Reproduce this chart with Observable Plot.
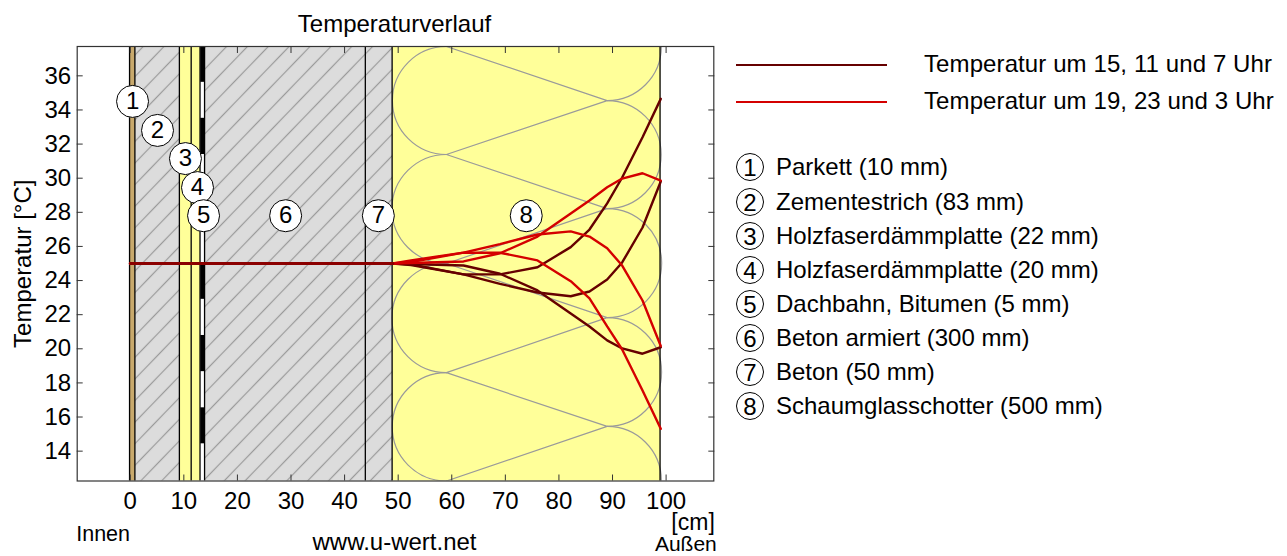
<!DOCTYPE html>
<html>
<head>
<meta charset="utf-8">
<script src="https://cdn.jsdelivr.net/npm/d3@7"></script>
<script src="https://cdn.jsdelivr.net/npm/@observablehq/plot@0.6"></script>
<style>
  html, body { margin: 0; padding: 0; background: #fff; }
  #wrap { position: relative; width: 1287px; height: 556px; font-family: "Liberation Sans", Arial, sans-serif; color: #000; overflow: hidden; }
  #wrap svg { display: block; }
  .tempLine { position: absolute; left: 736px; width: 151px; height: 2px; }
  .tempText { position: absolute; left: 924px; font-size: 24px; line-height: 24px; letter-spacing: 0.1px; white-space: nowrap; }
  .layerRow { position: absolute; left: 736px; height: 28px; white-space: nowrap; }
  .layerRow b { position: absolute; left: 0; top: 0; width: 26px; height: 26px; border: 1px solid #000; border-radius: 50%; font-weight: normal; font-size: 24px; line-height: 27px; text-align: center; }
  .layerRow span { position: absolute; left: 40px; top: 2px; font-size: 24px; line-height: 24px; }
</style>
</head>
<body>
<div id="wrap"></div>
<script>
// Layer boundaries [cm], materials
const layerNames = ["Parkett (10 mm)", "Zementestrich (83 mm)", "Holzfaserdämmplatte (22 mm)", "Holzfaserdämmplatte (20 mm)", "Dachbahn, Bitumen (5 mm)", "Beton armiert (300 mm)", "Beton (50 mm)", "Schaumglasschotter (500 mm)"];
const layerEdges = [0, 1, 9.3, 11.5, 13.15, 14, 44, 49, 99];
const layerFills = ["#c8a96c", "url(#hatch)", "#ffff99", "#ffff99", "#ffffff", "url(#hatch)", "url(#hatch)", "#ffff99"];

// Badge positions on the chart
const badgeX = [0.43, 5.09, 10.3, 12.55, 13.68, 29, 46.3, 73.9];
const badgeY = [34.5, 32.8, 31.15, 29.45, 27.8, 27.8, 27.8, 27.8];

// Axis
const xDomain = [-9.9, 108.9];
const yDomain = [12.25, 37.72];
const xTicks = [0, 10, 20, 30, 40, 50, 60, 70, 80, 90, 100];
const yTicks = [14, 16, 18, 20, 22, 24, 26, 28, 30, 32, 34, 36];

// Bitumen dashes (temperature-axis extents)
const dashTop = [37.72, 33.51, 29.27, 25.03, 20.78, 16.54];
const dashBottom = [35.62, 31.39, 27.15, 22.9, 18.66, 14.43];

// Gravel symbol
const fibreX = [59, 89];
const fibreY = [37.72, 34.55, 31.39, 28.22, 25, 21.83, 18.6, 15.45, 12.25];
const fibreLeftArcs = [[37.72, 31.39], [31.39, 25], [25, 18.6], [18.6, 12.25]];
const fibreRightArcs = [[40.9, 34.55], [34.55, 28.22], [28.22, 21.83], [21.83, 15.45], [15.45, 9.1]];

// Temperature profile
const depth = [0, 49, 52.4, 62.2, 69, 76, 82.2, 85.7, 89, 91.8, 95.6, 99];
const dark1 = [25, 25, 24.95, 24.36, 24.36, 24.78, 25.96, 26.99, 28.52, 30.04, 32.40, 34.65];
const dark2 = [25, 25, 24.91, 24.36, 23.81, 23.30, 23.08, 23.36, 24.06, 25.06, 27.11, 29.81];
const dark3 = [25, 25, 24.97, 24.88, 24.40, 23.42, 22.07, 21.31, 20.49, 20.02, 19.71, 20.09];
const red1 = [25, 25, 25.03, 25.12, 25.60, 26.58, 27.93, 28.69, 29.47, 29.98, 30.29, 29.86];
const red2 = [25, 25, 25.09, 25.64, 26.14, 26.70, 26.88, 26.58, 25.89, 24.88, 22.83, 20.16];
const red3 = [25, 25, 25.18, 25.64, 25.63, 25.18, 23.96, 22.95, 21.31, 19.96, 17.56, 15.31];
const innerX = [0, 49];
const innerT = [25, 25];

const darkColor = "#660000", redColor = "#d40000", innerColor = "#8b0000", fibreColor = "#9a9a9a", frameColor = "#333333";
const fontFamily = '"Liberation Sans", Arial, sans-serif';

const layers = layerNames.map((name, i) => ({name, x1: layerEdges[i], x2: layerEdges[i + 1], fill: layerFills[i]}));
const dashes = dashTop.map((t, i) => ({y1: t, y2: dashBottom[i]}));
const badges = badgeX.map((x, i) => ({x, y: badgeY[i], n: String(i + 1)}));
const fibreLine = fibreY.map((y, i) => ({x: fibreX[i % 2], y}));
const profile = s => depth.map((x, i) => ({x, y: s[i]}));
const blank = () => "";

const lineOpts = {x: "x", y: "y", strokeWidth: 2.4, strokeLinejoin: "miter", clip: "frame"};

const chart = Plot.plot({
  width: 1287,
  height: 556,
  marginLeft: 76.7,
  marginRight: 573.7,
  marginTop: 46,
  marginBottom: 75.5,
  style: {fontFamily, fontSize: "24px", color: "#000", background: "#fff", overflow: "visible"},
  x: {domain: xDomain},
  y: {domain: yDomain},
  marks: [
    Plot.rect(layers, {x1: "x1", x2: "x2", y1: yDomain[0], y2: yDomain[1], fill: "fill"}),
    Plot.rect(dashes, {x1: layerEdges[4], x2: layerEdges[5], y1: "y1", y2: "y2", fill: "#000"}),
    Plot.line(fibreLine, {x: "x", y: "y", stroke: fibreColor, strokeWidth: 1.2, clip: "frame"}),
    Plot.arrow(fibreLeftArcs, {x: fibreX[0], y1: d => d[0], y2: d => d[1], bend: -90, headLength: 0, stroke: fibreColor, strokeWidth: 1.2, clip: "frame"}),
    Plot.arrow(fibreRightArcs, {x: fibreX[1], y1: d => d[0], y2: d => d[1], bend: 90, headLength: 0, stroke: fibreColor, strokeWidth: 1.2, clip: "frame"}),
    Plot.ruleX(layerEdges, {y1: yDomain[0], y2: yDomain[1], stroke: "#000", strokeWidth: 1.3, dx: -0.7}),
    Plot.axisX({ticks: xTicks, tickFormat: d => String(d), anchor: "bottom", label: null, tickSize: -6, tickPadding: 16.5, stroke: frameColor, fontSize: 24}),
    Plot.axisX({ticks: xTicks, tickFormat: blank, anchor: "top", label: null, tickSize: -6, stroke: frameColor}),
    Plot.axisY({ticks: yTicks, anchor: "left", label: "Temperatur [°C]", labelAnchor: "center", labelArrow: "none", labelOffset: 63, tickSize: -6, tickPadding: 12, stroke: frameColor, fontSize: 24}),
    Plot.axisY({ticks: yTicks, tickFormat: blank, anchor: "right", label: null, tickSize: -6, stroke: frameColor}),
    Plot.frame({stroke: frameColor, strokeWidth: 1.2}),
    Plot.line(profile(dark1), {...lineOpts, stroke: darkColor}),
    Plot.line(profile(dark2), {...lineOpts, stroke: darkColor}),
    Plot.line(profile(dark3), {...lineOpts, stroke: darkColor}),
    Plot.line(profile(red1), {...lineOpts, stroke: redColor}),
    Plot.line(profile(red2), {...lineOpts, stroke: redColor}),
    Plot.line(profile(red3), {...lineOpts, stroke: redColor}),
    Plot.line(innerX.map((x, i) => ({x, y: innerT[i]})), {...lineOpts, stroke: innerColor, strokeWidth: 3}),
    Plot.dot(badges, {x: "x", y: "y", r: 16, fill: "#fff", stroke: "#000", strokeWidth: 1}),
    Plot.text(badges, {x: "x", y: "y", text: "n", fontSize: 24, fill: "#000"}),
    Plot.text(["Temperaturverlauf"], {frameAnchor: "top", dx: -1, dy: -22, fontSize: 24, lineAnchor: "middle", fill: "#000"}),
    Plot.text(["Innen"], {frameAnchor: "bottom-left", dx: -1, dy: 53, fontSize: 21.5, lineAnchor: "middle", fill: "#000"}),
    Plot.text(["www.u-wert.net"], {frameAnchor: "bottom", dx: -1, dy: 61, fontSize: 24, lineAnchor: "middle", fill: "#000"}),
    Plot.text(["[cm]"], {frameAnchor: "bottom-right", dx: 1, dy: 42, fontSize: 23, lineAnchor: "middle", fill: "#000"}),
    Plot.text(["Außen"], {frameAnchor: "bottom-right", dx: 3, dy: 63.5, fontSize: 21, lineAnchor: "middle", fill: "#000"})
  ]
});

chart.insertAdjacentHTML("afterbegin", `<defs><pattern id="hatch" patternUnits="userSpaceOnUse" width="15" height="15" patternTransform="rotate(-46) translate(0,-7.2)"><rect width="15" height="15" fill="#dcdcdc"></rect><line x1="0" y1="7.5" x2="15" y2="7.5" stroke="#9a9a9a" stroke-width="1.2"></line></pattern></defs>`);

const wrap = document.getElementById("wrap");
wrap.appendChild(chart);

// Side legend (HTML, beside the plot)
const legendTemps = [
  {label: "Temperatur um 15, 11 und 7 Uhr", color: darkColor, top: 63.7},
  {label: "Temperatur um 19, 23 und 3 Uhr", color: redColor, top: 101.3}
];
legendTemps.forEach(d => {
  const l = document.createElement("div");
  l.className = "tempLine";
  l.style.top = d.top + "px";
  l.style.background = d.color;
  wrap.appendChild(l);
  const t = document.createElement("div");
  t.className = "tempText";
  t.style.top = (d.top - 12) + "px";
  t.textContent = d.label;
  wrap.appendChild(t);
});
const rowTops = [153, 187.5, 221.5, 256, 290, 324, 358, 392];
layerNames.forEach((name, i) => {
  const r = document.createElement("div");
  r.className = "layerRow";
  r.style.top = rowTops[i] + "px";
  const b = document.createElement("b");
  b.textContent = i + 1;
  const s = document.createElement("span");
  s.textContent = name;
  r.append(b, s);
  wrap.appendChild(r);
});
</script>
</body>
</html>
